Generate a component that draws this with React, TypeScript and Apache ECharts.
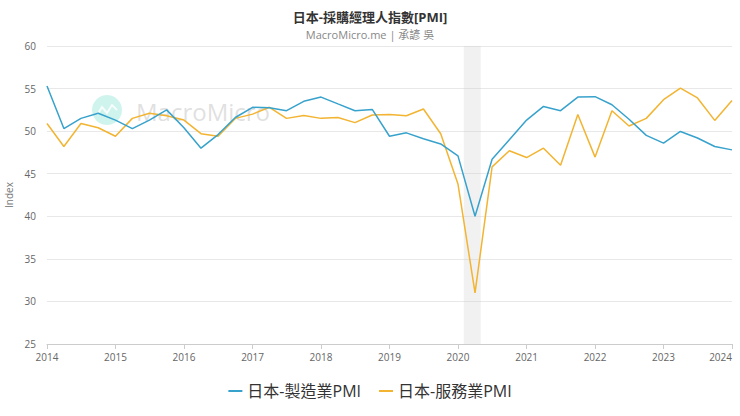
import React, { useEffect, useRef } from "react";
import * as echarts from "echarts";

const dates: string[] = [
  "2014-01-01", "2014-04-01", "2014-07-01", "2014-10-01",
  "2015-01-01", "2015-04-01", "2015-07-01", "2015-10-01",
  "2016-01-01", "2016-04-01", "2016-07-01", "2016-10-01",
  "2017-01-01", "2017-04-01", "2017-07-01", "2017-10-01",
  "2018-01-01", "2018-04-01", "2018-07-01", "2018-10-01",
  "2019-01-01", "2019-04-01", "2019-07-01", "2019-10-01",
  "2020-01-01", "2020-04-01", "2020-07-01", "2020-10-01",
  "2021-01-01", "2021-04-01", "2021-07-01", "2021-10-01",
  "2022-01-01", "2022-04-01", "2022-07-01", "2022-10-01",
  "2023-01-01", "2023-04-01", "2023-07-01", "2023-10-01",
  "2024-01-01",
];

const manufacturing: number[] = [
  55.3, 50.3, 51.5, 52.1, 51.3, 50.3, 51.3, 52.5, 50.4, 48.0, 49.6, 51.6,
  52.8, 52.75, 52.4, 53.5, 54.0, 53.2, 52.4, 52.55, 49.4, 49.8, 49.1, 48.5,
  47.1, 40.0, 46.7, 49.0, 51.3, 52.9, 52.4, 54.0, 54.05, 53.1, 51.4, 49.5,
  48.6, 49.96, 49.2, 48.2, 47.8,
];

const services: number[] = [
  50.9, 48.2, 50.9, 50.4, 49.4, 51.5, 52.1, 51.8, 51.3, 49.7, 49.4, 51.5,
  52.0, 52.8, 51.5, 51.85, 51.5, 51.6, 51.0, 51.9, 51.95, 51.8, 52.6, 49.7,
  43.8, 31.0, 45.8, 47.7, 46.9, 48.0, 46.0, 51.96, 46.95, 52.4, 50.6, 51.5,
  53.7, 55.06, 53.9, 51.26, 53.6,
];

const recession: [string, string] = ["2020-02-01", "2020-05-01"];

const seriesNames = ["日本-製造業PMI", "日本-服務業PMI"];
const colors = ["#37a2cc", "#f2b431"];

export default function App() {
  const ref = useRef<HTMLDivElement>(null);

  useEffect(() => {
    document.body.style.margin = "0";
    if (!ref.current) return;
    const chart = echarts.init(ref.current, null, { renderer: "svg" });
    const font = "'Open Sans', 'Noto Sans CJK TC', sans-serif";
    chart.setOption({
      animation: false,
      textStyle: { fontFamily: font },
      title: {
        text: "日本-採購經理人指數[PMI]",
        subtext: "MacroMicro.me | 承諺 吳",
        left: "center",
        top: 5,
        itemGap: 6,
        textStyle: { fontSize: 13, fontWeight: "bold", color: "#333", fontFamily: font },
        subtextStyle: { fontSize: 11, color: "#888", fontFamily: font },
      },
      graphic: [
        {
          type: "group",
          z: -10,
          silent: true,
          children: [
            {
              type: "circle",
              shape: { cx: 107, cy: 110, r: 15 },
              style: { fill: "#5fd6c4", opacity: 0.3 },
            },
            {
              type: "polyline",
              shape: { points: [[97, 115], [102, 107], [107, 113], [112, 105], [117, 110]] },
              style: { stroke: "#ffffff", lineWidth: 2, fill: "none", opacity: 0.8 },
            },
            {
              type: "text",
              x: 136,
              y: 111,
              style: {
                text: "MacroMicro",
                fontSize: 24,
                fontFamily: font,
                fill: "#cccccc",
                opacity: 0.6,
                verticalAlign: "middle",
              },
            },
          ],
        },
      ],
      legend: {
        bottom: 12,
        left: "center",
        itemGap: 18,
        itemWidth: 14,
        itemHeight: 2,
        icon: "rect",
        textStyle: { fontSize: 16, color: "#333", fontFamily: font },
        data: seriesNames,
      },
      grid: {
        left: 47,
        right: 8,
        top: 46,
        bottom: 72,
        containLabel: false,
        outerBoundsMode: "none",
      },
      xAxis: {
        type: "time",
        min: "2014-01-01",
        max: "2024-01-01",
        splitNumber: 10,
        minInterval: 365 * 24 * 3600 * 1000,
        maxInterval: 366 * 24 * 3600 * 1000,
        axisLine: { lineStyle: { color: "#cccccc" } },
        axisTick: { show: true, length: 5, lineStyle: { color: "#cccccc" } },
        axisLabel: {
          formatter: "{yyyy}",
          color: "#666",
          fontSize: 10,
          margin: 8,
          showMinLabel: true,
          showMaxLabel: true,
          hideOverlap: false,
          alignMaxLabel: "right",
        },
        splitLine: { show: false },
      },
      yAxis: {
        type: "value",
        min: 25,
        max: 60,
        interval: 5,
        name: "Index",
        nameLocation: "middle",
        nameGap: 33,
        nameMoveOverlap: false,
        nameTextStyle: { color: "#777", fontSize: 10 },
        axisLine: { show: false },
        axisTick: { show: false },
        axisLabel: { color: "#666", fontSize: 10, margin: 11 },
        splitLine: { lineStyle: { color: "#e8e8e8" } },
      },
      series: [
        {
          name: seriesNames[0],
          type: "line",
          data: dates.map((d, i) => [d, manufacturing[i]]),
          showSymbol: false,
          symbol: "none",
          lineStyle: { width: 1.5, color: colors[0] },
          itemStyle: { color: colors[0] },
          z: 3,
          markArea: {
            silent: true,
            itemStyle: { color: "rgba(200,200,200,0.25)" },
            data: [[{ xAxis: recession[0] }, { xAxis: recession[1] }]],
          },
        },
        {
          name: seriesNames[1],
          type: "line",
          data: dates.map((d, i) => [d, services[i]]),
          showSymbol: false,
          symbol: "none",
          lineStyle: { width: 1.5, color: colors[1] },
          itemStyle: { color: colors[1] },
          z: 2,
        },
      ],
    });
    return () => chart.dispose();
  }, []);

  return <div ref={ref} style={{ width: 740, height: 416 }} />;
}
